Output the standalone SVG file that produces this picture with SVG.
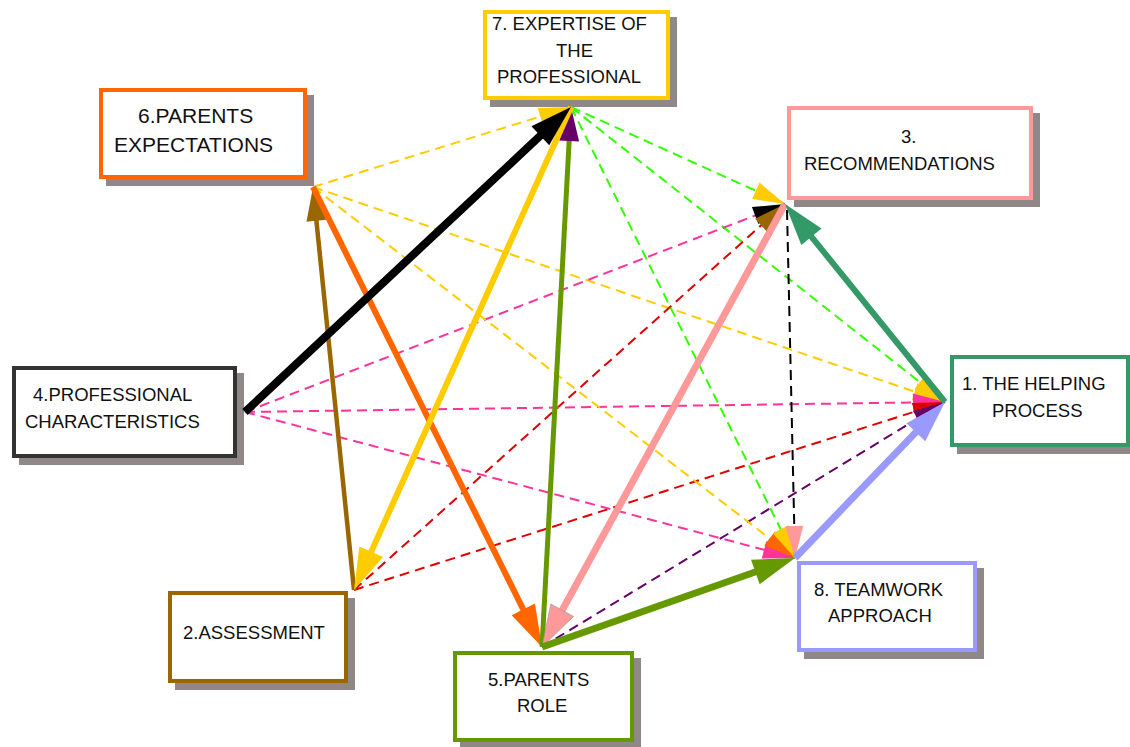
<svg xmlns="http://www.w3.org/2000/svg" width="1130" height="747" viewBox="0 0 1130 747">
<style>
.shadow{fill:#908888;}
.box{fill:#ffffff;stroke-width:4;}
.lbl{font-family:"Liberation Sans",Arial,sans-serif;font-size:18.5px;fill:#111;}
.big{font-size:21px;}
.solid{fill:none;stroke-linecap:butt;}
.dash{fill:none;stroke-width:2;stroke-dasharray:10 6;}
</style>
<defs>
<marker id="t-black" markerUnits="userSpaceOnUse" markerWidth="44" markerHeight="28" refX="22" refY="13" orient="auto" overflow="visible"><path d="M0,0 L42,13 L0,26 z" fill="#000000"/></marker>
<marker id="t-yellow" markerUnits="userSpaceOnUse" markerWidth="44" markerHeight="28" refX="22" refY="13" orient="auto" overflow="visible"><path d="M0,0 L42,13 L0,26 z" fill="#FFCC00"/></marker>
<marker id="t-orange" markerUnits="userSpaceOnUse" markerWidth="44" markerHeight="28" refX="22" refY="13" orient="auto" overflow="visible"><path d="M0,0 L42,13 L0,26 z" fill="#FF6600"/></marker>
<marker id="t-salmon" markerUnits="userSpaceOnUse" markerWidth="44" markerHeight="28" refX="22" refY="13" orient="auto" overflow="visible"><path d="M0,0 L42,13 L0,26 z" fill="#FF9999" stroke="#999" stroke-width="0.6"/></marker>
<marker id="t-teal" markerUnits="userSpaceOnUse" markerWidth="44" markerHeight="28" refX="22" refY="13" orient="auto" overflow="visible"><path d="M0,0 L42,13 L0,26 z" fill="#339966"/></marker>
<marker id="t-lav" markerUnits="userSpaceOnUse" markerWidth="44" markerHeight="28" refX="22" refY="13" orient="auto" overflow="visible"><path d="M0,0 L42,13 L0,26 z" fill="#9999FF"/></marker>
<marker id="t-olive" markerUnits="userSpaceOnUse" markerWidth="44" markerHeight="28" refX="22" refY="13" orient="auto" overflow="visible"><path d="M0,0 L42,13 L0,26 z" fill="#669900"/></marker>
<marker id="m-purple" markerUnits="userSpaceOnUse" markerWidth="36" markerHeight="22" refX="14" refY="10" orient="auto" overflow="visible"><path d="M0,0 L34,10 L0,20 z" fill="#660066"/></marker>
<marker id="m-brown" markerUnits="userSpaceOnUse" markerWidth="36" markerHeight="22" refX="14" refY="10" orient="auto" overflow="visible"><path d="M0,0 L34,10 L0,20 z" fill="#996600"/></marker>
<marker id="d-yellow" markerUnits="userSpaceOnUse" markerWidth="34" markerHeight="20" refX="32" refY="9" orient="auto" overflow="visible"><path d="M0,0 L32,9 L0,18 z" fill="#FFCC00"/></marker>
<marker id="d-orange" markerUnits="userSpaceOnUse" markerWidth="34" markerHeight="20" refX="32" refY="9" orient="auto" overflow="visible"><path d="M0,0 L32,9 L0,18 z" fill="#FF6600"/></marker>
<marker id="d-black" markerUnits="userSpaceOnUse" markerWidth="34" markerHeight="20" refX="32" refY="9" orient="auto" overflow="visible"><path d="M0,0 L32,9 L0,18 z" fill="#000000"/></marker>
<marker id="d-brown" markerUnits="userSpaceOnUse" markerWidth="34" markerHeight="20" refX="32" refY="9" orient="auto" overflow="visible"><path d="M0,0 L32,9 L0,18 z" fill="#996600"/></marker>
<marker id="d-pink" markerUnits="userSpaceOnUse" markerWidth="34" markerHeight="20" refX="32" refY="9" orient="auto" overflow="visible"><path d="M0,0 L32,9 L0,18 z" fill="#FF3399"/></marker>
<marker id="d-red" markerUnits="userSpaceOnUse" markerWidth="34" markerHeight="20" refX="32" refY="9" orient="auto" overflow="visible"><path d="M0,0 L32,9 L0,18 z" fill="#E00000"/></marker>
<marker id="d-purple" markerUnits="userSpaceOnUse" markerWidth="34" markerHeight="20" refX="32" refY="9" orient="auto" overflow="visible"><path d="M0,0 L32,9 L0,18 z" fill="#660066"/></marker>
<marker id="d-salmon" markerUnits="userSpaceOnUse" markerWidth="34" markerHeight="20" refX="32" refY="9" orient="auto" overflow="visible"><path d="M0,0 L32,9 L0,18 z" fill="#FF9999"/></marker>
</defs>
<rect width="1130" height="747" fill="#ffffff"/>

<g id="node7">
<rect class="shadow" x="490" y="17" width="187" height="90"/>
<rect class="box" x="485" y="12" width="183" height="86" stroke="#FFCC00"/>
<text class="lbl" x="492" y="30">7. EXPERTISE OF</text>
<text class="lbl" x="556" y="57">THE</text>
<text class="lbl" x="497" y="83">PROFESSIONAL</text>
</g>
<g id="node3">
<rect class="shadow" x="794" y="113" width="246" height="94"/>
<rect class="box" x="789" y="108" width="242" height="90" stroke="#FF9999"/>
<text class="lbl" x="901" y="143">3.</text>
<text class="lbl" x="804" y="170">RECOMMENDATIONS</text>
</g>
<g id="node6">
<rect class="shadow" x="106" y="95" width="208" height="91"/>
<rect class="box" x="101" y="90" width="204" height="87" stroke="#FF6600"/>
<text class="lbl big" x="138" y="123">6.PARENTS</text>
<text class="lbl big" x="114" y="152">EXPECTATIONS</text>
</g>
<g id="node4">
<rect class="shadow" x="19" y="373" width="225" height="92"/>
<rect class="box" x="14" y="368" width="221" height="88" stroke="#333333"/>
<text class="lbl" x="33" y="401">4.PROFESSIONAL</text>
<text class="lbl" x="25" y="428">CHARACTERISTICS</text>
</g>
<g id="node1">
<rect class="shadow" x="957" y="362" width="179" height="92"/>
<rect class="box" x="952" y="357" width="176" height="88" stroke="#339966"/>
<text class="lbl" x="962" y="390">1. THE HELPING</text>
<text class="lbl" x="992" y="417">PROCESS</text>
</g>
<g id="node8">
<rect class="shadow" x="804" y="568" width="180" height="91"/>
<rect class="box" x="799" y="563" width="176" height="87" stroke="#9999FF"/>
<text class="lbl" x="814" y="596">8. TEAMWORK</text>
<text class="lbl" x="828" y="622">APPROACH</text>
</g>
<g id="node2">
<rect class="shadow" x="175" y="598" width="180" height="92"/>
<rect class="box" x="170" y="593" width="176" height="88" stroke="#996600"/>
<text class="lbl" x="183" y="639">2.ASSESSMENT</text>
</g>
<g id="node5">
<rect class="shadow" x="460" y="658" width="181" height="91"/>
<rect class="box" x="455" y="653" width="177" height="87" stroke="#669900"/>
<text class="lbl" x="488" y="686">5.PARENTS</text>
<text class="lbl" x="517" y="712">ROLE</text>
</g>

<g id="connectors">
<line class="dash" x1="313" y1="187" x2="571" y2="107" stroke="#FFCC00" marker-end="url(#d-yellow)"/>
<line class="dash" x1="313" y1="187" x2="945" y2="402" stroke="#FFCC00" marker-end="url(#d-yellow)"/>
<line class="dash" x1="571" y1="107" x2="785" y2="204" stroke="#33FF00" marker-end="url(#d-yellow)"/>
<line class="dash" x1="571" y1="107" x2="945" y2="402" stroke="#33FF00" marker-end="url(#d-yellow)"/>
<line class="dash" x1="245" y1="412" x2="785" y2="204" stroke="#FF3399" marker-end="url(#d-black)"/>
<line class="dash" x1="354" y1="590" x2="785" y2="204" stroke="#E00000" marker-end="url(#d-brown)"/>
<line class="dash" x1="245" y1="412" x2="945" y2="402" stroke="#FF3399" marker-end="url(#d-pink)"/>
<line class="dash" x1="354" y1="590" x2="945" y2="402" stroke="#E00000" marker-end="url(#d-red)"/>
<line class="dash" x1="542" y1="647" x2="945" y2="402" stroke="#660066" marker-end="url(#d-purple)"/>
<line class="dash" x1="245" y1="412" x2="795" y2="558" stroke="#FF3399" marker-end="url(#d-pink)"/>
<line class="dash" x1="313" y1="187" x2="795" y2="558" stroke="#FFCC00" marker-end="url(#d-orange)"/>
<line class="dash" x1="571" y1="107" x2="795" y2="558" stroke="#33FF00" marker-end="url(#d-yellow)"/>
<line class="dash" x1="787" y1="210" x2="795" y2="558" stroke="#000000" marker-end="url(#d-salmon)"/>
<line class="solid" x1="354" y1="590" x2="315" y2="206.9" stroke="#996600" stroke-width="4.5" marker-end="url(#m-brown)"/>
<line class="solid" x1="313" y1="187" x2="533.1" y2="629.1" stroke="#FF6600" stroke-width="6" marker-end="url(#t-orange)"/>
<line class="solid" x1="542" y1="647" x2="569.9" y2="127" stroke="#669900" stroke-width="5" marker-end="url(#m-purple)"/>
<line class="solid" x1="571" y1="107" x2="362.2" y2="571.8" stroke="#FFCC00" stroke-width="6" marker-end="url(#t-yellow)"/>
<line class="solid" x1="245" y1="412" x2="556.4" y2="120.7" stroke="#000000" stroke-width="8" marker-end="url(#t-black)"/>
<line class="solid" x1="785" y1="204" x2="551.6" y2="629.5" stroke="#FF9999" stroke-width="7" marker-end="url(#t-salmon)"/>
<line class="solid" x1="945" y1="402" x2="797.6" y2="219.6" stroke="#339966" stroke-width="6" marker-end="url(#t-teal)"/>
<line class="solid" x1="795" y1="558" x2="931.1" y2="416.4" stroke="#9999FF" stroke-width="7" marker-end="url(#t-lav)"/>
<line class="solid" x1="542" y1="647" x2="776.1" y2="564.6" stroke="#669900" stroke-width="7" marker-end="url(#t-olive)"/>
</g>
</svg>
